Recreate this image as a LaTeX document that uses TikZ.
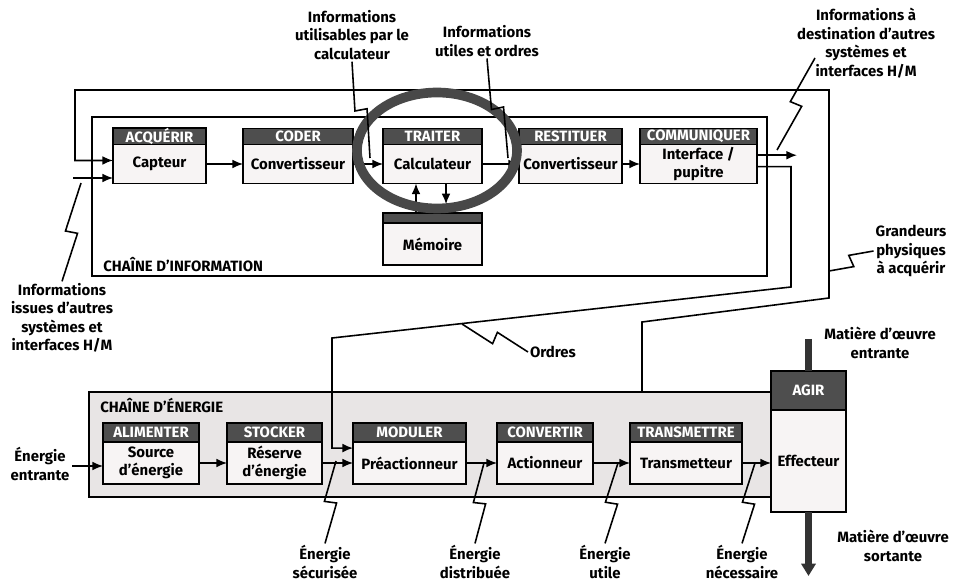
\documentclass[tikz,border=0pt]{standalone}
\usepackage{fontspec}
\setmainfont{Fira Sans}
\usetikzlibrary{positioning,calc,arrows.meta}

\definecolor{entete}{RGB}{78,78,78}
\definecolor{corps}{RGB}{247,244,244}
\definecolor{fondnrj}{RGB}{232,229,229}
\definecolor{anneau}{RGB}{72,72,72}

\tikzset{
  cadre/.style={draw, line width=1pt, anchor=north west, inner sep=0pt},
  corpsbloc/.style={draw, line width=1pt, fill=corps, align=center, inner sep=1pt, outer sep=0pt,
    font=\bfseries\fontsize{8.5}{10}\selectfont},
  entetebloc/.style={draw, line width=1pt, fill=entete, text=white, inner sep=0pt, outer sep=0pt,
    font=\bfseries\fontsize{8.5}{9}\selectfont},
  fleche/.style={line width=0.9pt, -{Latex[length=6pt,width=5pt]}},
  lien/.style={line width=0.9pt},
  legende/.style={align=center, inner sep=1pt, font=\bfseries\fontsize{8.5}{10.5}\selectfont},
  titre/.style={anchor=west, inner sep=0pt, font=\bfseries\fontsize{8.5}{10}\selectfont},
}
% trait en eclair entre une legende et une liaison
\newcommand\eclair[2]{\draw[lien] (#1) -- ($(#1)!0.5!(#2)!3.5pt!-90:(#2)$) -- ($(#1)!0.5!(#2)!3.5pt!90:(#2)$) -- (#2);}

\begin{document}
\begin{tikzpicture}[x=0.02cm, y=-0.02cm]
\useasboundingbox (0,0) rectangle (953,580);

% cadres des deux chaines
\node[cadre, minimum width=13.5cm, minimum height=3.18cm] (chinfo) at (91,116) {};
\node[cadre, fill=fondnrj, minimum width=13.66cm, minimum height=2.1cm] (chnrj) at (88,391) {};
\node[titre] (titreinfo) at (103,265) {CHAÎNE D'INFORMATION};
\node[titre] (titrenrj) at (100,405) {CHAÎNE D'ÉNERGIE};

% blocs de la chaine d'information
\node[corpsbloc, minimum width=1.86cm, minimum height=0.78cm] (capteur) at (159.5,164) {Capteur};
\node[entetebloc, minimum width=1.86cm, minimum height=0.32cm, above=0pt of capteur] (acquerir) {ACQUÉRIR};
\node[corpsbloc, minimum width=2.2cm, minimum height=0.78cm] (convcoder) at (298,164) {Convertisseur};
\node[entetebloc, minimum width=2.2cm, minimum height=0.32cm, above=0pt of convcoder] (coder) {CODER};
\node[corpsbloc, minimum width=1.98cm, minimum height=0.78cm] (calculateur) at (432.5,164) {Calculateur};
\node[entetebloc, minimum width=1.98cm, minimum height=0.32cm, above=0pt of calculateur] (traiter) {TRAITER};
\node[corpsbloc, minimum width=2.06cm, minimum height=0.78cm] (convrest) at (570.5,164) {Convertisseur};
\node[entetebloc, minimum width=2.06cm, minimum height=0.32cm, above=0pt of convrest] (restituer) {RESTITUER};
\node[corpsbloc, minimum width=2.34cm, minimum height=0.78cm] (interface) at (698.5,164) {Interface /\\pupitre};
\node[entetebloc, minimum width=2.34cm, minimum height=0.32cm, above=0pt of interface] (communiquer) {COMMUNIQUER};

% liaisons
\draw[fleche] (capteur) -- (convcoder);
\draw[fleche] (convcoder) -- (calculateur);
\draw[fleche] (calculateur) -- (convrest);
\draw[fleche] (convrest) -- (interface);

% memoire
\node[corpsbloc, minimum width=1.98cm, minimum height=0.84cm] (memoire) at (432.5,244) {Mémoire};
\node[entetebloc, minimum width=1.98cm, minimum height=0.2cm, above=0pt of memoire] (bandememoire) {};
\draw[fleche] ([xshift=-9.4pt]bandememoire.north) -- ([xshift=-9.4pt]calculateur.south);
\draw[fleche, shorten >=5pt] ([xshift=7.7pt]calculateur.south) -- ([xshift=7.7pt]bandememoire.north);

% blocs de la chaine d'energie
\node[corpsbloc, minimum width=1.92cm, minimum height=0.84cm] (source) at (151,463) {Source\\d'énergie};
\node[entetebloc, minimum width=1.92cm, minimum height=0.38cm, above=0pt of source] (alimenter) {ALIMENTER};
\node[corpsbloc, minimum width=1.9cm, minimum height=0.84cm] (reserve) at (274.5,463) {Réserve\\d'énergie};
\node[entetebloc, minimum width=1.9cm, minimum height=0.38cm, above=0pt of reserve] (stocker) {STOCKER};
\node[corpsbloc, minimum width=2.26cm, minimum height=0.84cm] (preact) at (409.5,463) {Préactionneur};
\node[entetebloc, minimum width=2.26cm, minimum height=0.38cm, above=0pt of preact] (moduler) {MODULER};
\node[corpsbloc, minimum width=1.92cm, minimum height=0.84cm] (actionneur) at (545,463) {Actionneur};
\node[entetebloc, minimum width=1.92cm, minimum height=0.38cm, above=0pt of actionneur] (convertir) {CONVERTIR};
\node[corpsbloc, minimum width=2.24cm, minimum height=0.84cm] (transmetteur) at (686,463) {Transmetteur};
\node[entetebloc, minimum width=2.24cm, minimum height=0.38cm, above=0pt of transmetteur] (transmettre) {TRANSMETTRE};
\node[corpsbloc, minimum width=1.5cm, minimum height=2.04cm] (effecteur) at (808.5,461) {Effecteur};
\node[entetebloc, minimum width=1.5cm, minimum height=0.78cm, above=0pt of effecteur] (agir) {AGIR};

% boucle des grandeurs physiques
\draw[fleche] (642,0 |- chnrj.north) -- (642,322) -- (829,298) -- (829,90) -- (75,90) |- ([yshift=2pt]capteur.west);
% ordres
\draw[fleche] ([yshift=-1.5pt]interface.east) -| (791,287) -- (332,338) |- ([yshift=8.5pt]preact.west);
% echanges avec les autres systemes
\draw[fleche] ([yshift=5pt]interface.east) -- ++(40,0) coordinate (sortieinfo);
\coordinate (entreeinfo) at (73,178);
\draw[fleche] (entreeinfo) -- (entreeinfo -| capteur.west);

% anneau autour de traiter
\draw[anneau, line width=5.5pt] (437,150.5) ellipse [x radius=1.6cm, y radius=1.16cm];

% liaisons de la chaine d'energie
\coordinate (entreenrj) at (72,466);
\draw[fleche] (entreenrj) -- (entreenrj -| source.west);
\draw[fleche] (source) -- (reserve);
\draw[fleche] (reserve) -- (preact);
\draw[fleche] (preact) -- (actionneur);
\draw[fleche] (actionneur) -- (transmetteur);
\draw[fleche] (transmetteur) -- (transmetteur -| effecteur.west);

% matiere d'oeuvre
\coordinate (matentree) at (808.5,339);
\coordinate (matsortie) at (808.5,576);
\draw[line width=4pt, black!80] (matentree) -- (agir.north);
\draw[line width=4pt, black!80, -{Triangle[length=7pt,width=8pt]}] (effecteur.south) -- (matsortie);

% legendes
\node[legende] (lblissues) at (62,318) {Informations\\issues d'autres\\systèmes et\\interfaces H/M};
\node[legende] (lblutilisables) at (352,35) {Informations\\utilisables par le\\calculateur};
\node[legende] (lblutiles) at (487,41) {Informations\\utiles et ordres};
\node[legende] (lbldest) at (866,43) {Informations à\\destination d'autres\\systèmes et\\interfaces H/M};
\node[legende] (lblgrandeurs) at (911,251) {Grandeurs\\physiques\\à acquérir};
\node[legende] (lblordres) at (553,352) {Ordres};
\node[legende] (lblentrante) at (40,464) {Énergie\\entrante};
\node[legende] (lblmatentree) at (880,343) {Matière d'œuvre\\entrante};
\node[legende] (lblmatsortie) at (893,546) {Matière d'œuvre\\sortante};
\node[legende] (lblsecurisee) at (325,562) {Énergie\\sécurisée};
\node[legende] (lbldistribuee) at (475,562) {Énergie\\distribuée};
\node[legende] (lblutile) at (605,562) {Énergie\\utile};
\node[legende] (lblnecessaire) at (742,562) {Énergie\\nécessaire};

% traits en eclair
\coordinate (cissues) at (81,183);
\coordinate (cutilisables) at (370,158);
\coordinate (cutiles) at (508,158);
\coordinate (dA) at (815,58);
\coordinate (cdest) at (777,150);
\coordinate (cgrandeurs) at (829,271);
\coordinate (cordres) at (462,324);
\coordinate (csecurisee) at (336,461);
\coordinate (cdistribuee) at (484,463);
\coordinate (cutile) at (618,463);
\coordinate (cnecessaire) at (755,463);
\eclair{lblissues.north}{cissues}
\eclair{lblutilisables.south}{cutilisables}
\eclair{lblutiles.south}{cutiles}
\eclair{dA}{cdest}
\eclair{lblgrandeurs.west}{cgrandeurs}
\eclair{lblordres.west}{cordres}
\eclair{lblsecurisee.north}{csecurisee}
\eclair{lbldistribuee.north}{cdistribuee}
\eclair{lblutile.north}{cutile}
\eclair{lblnecessaire.north}{cnecessaire}
\end{tikzpicture}
\end{document}
